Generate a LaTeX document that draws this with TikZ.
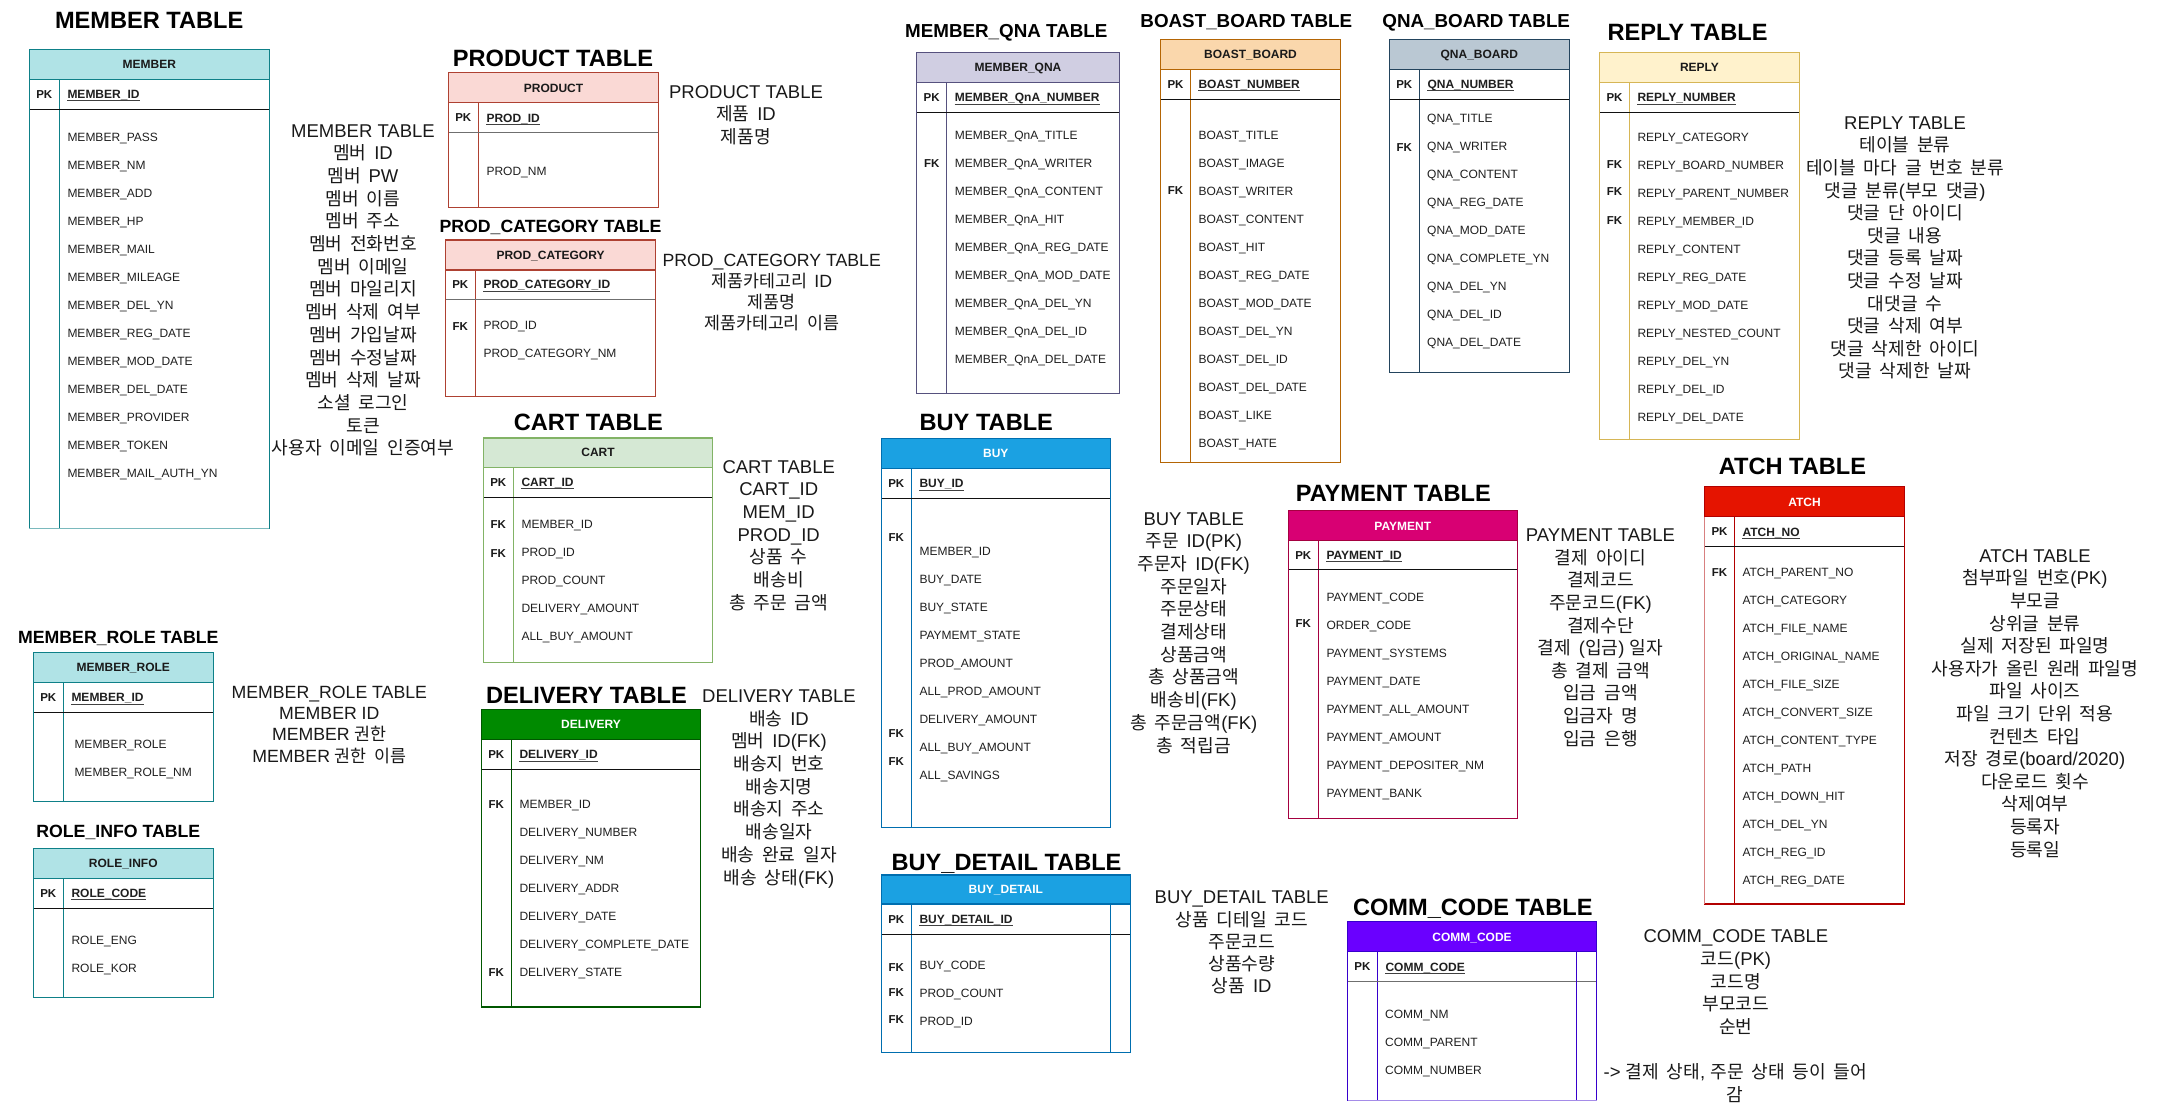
\documentclass[tikz,border=0pt]{standalone}
\usepackage{fontspec}
\setmainfont{Liberation Sans}
\newfontfamily\krfont{Noto Sans CJK KR}[Scale=0.98,WordSpace=1.9]
\usetikzlibrary{calc}
% automatic switch to the Korean font for Hangul syllables
\XeTeXinterchartokenstate=1
\newXeTeXintercharclass\hangulclass
\newcount\hgcnt
\hgcnt="AC00
\loop\XeTeXcharclass\hgcnt=\hangulclass\relax
\ifnum\hgcnt<"D7A3 \advance\hgcnt by 1 \repeat
\XeTeXinterchartoks 0 \hangulclass = {\krfont}
\XeTeXinterchartoks 4095 \hangulclass = {\krfont}
\XeTeXinterchartoks \hangulclass 0 = {\rmfamily}
\XeTeXinterchartoks 4095 0 = {\rmfamily}
% table colour sets: fill, stroke, header text, key separator
\newcommand\tcol[5]{\definecolor{#1F}{HTML}{#2}\definecolor{#1S}{HTML}{#3}\definecolor{#1T}{HTML}{#4}\definecolor{#1P}{HTML}{#5}}
\tcol{mem}{B0E3E6}{0E8088}{1A1A1A}{111111}
\tcol{prod}{FAD9D5}{AE4132}{1A1A1A}{6F6F6F}
\tcol{qna}{D0CEE2}{56517E}{1A1A1A}{111111}
\tcol{boast}{FAD7AC}{B46504}{1A1A1A}{111111}
\tcol{qb}{BAC8D3}{23445D}{1A1A1A}{111111}
\tcol{rep}{FFF2CC}{D6B656}{1A1A1A}{111111}
\tcol{cart}{D5E8D4}{82B366}{1A1A1A}{111111}
\tcol{del}{008A00}{005700}{FFFFFF}{111111}
\tcol{buy}{1BA1E2}{006EAF}{FFFFFF}{111111}
\tcol{pay}{D80073}{A50040}{FFFFFF}{111111}
\tcol{atch}{E51400}{B20000}{FFFFFF}{111111}
\tcol{comm}{6A00FF}{3700CC}{FFFFFF}{6F6F6F}
% table frame: name, left, top, right, bottom, header bottom, key bottom, divider x, colour set
\newcommand\tbl[9]{%
 \def\tN{#1}\def\tL{#2}\def\tT{#3}\def\tR{#4}\def\tB{#5}\def\tH{#6}\def\tP{#7}\def\tD{#8}%
 \colorlet{curF}{#9F}\colorlet{curS}{#9S}\colorlet{curT}{#9T}\colorlet{curP}{#9P}%
 \fill[curF] (#2,#3) rectangle (#4,#6);
 \draw[tline, curS] (#8,#6) -- (#8,#5);
 \draw[tline, curP] (#2,#7) -- (#4,#7);
 \draw[tline, curS] (#2,#6) -- (#4,#6);
 \draw[tline, curS] (#2,#3) rectangle (#4,#5);
}
\newcommand\thead[2]{%
 \node[hdr, text=curT] (\tN-head) at ({(\tL+\tR)/2}, {(\tT+\tH)/2+4.3}) {#1};
 \node[pkl] (\tN-pkl) at ({(\tL+\tD)/2}, {(\tH+\tP)/2+4.1}) {PK};
 \node[pkf] (\tN-pkf) at (\tD+8, {(\tH+\tP)/2+4.3}) {#2};
 \draw[line width=0.9, black!75] ([yshift=-2.2pt]\tN-pkf.base west) -- ([yshift=-2.2pt]\tN-pkf.base east);
}
\newcommand\flds[4][8]{%
 \foreach \fl [count=\i from 0] in {#4} {
   \node[fld] (\tN-f\i) at (\tD+#1, {#2+\i*#3+4.3}) {\fl};
 }}
\newcount\fkcnt
\newcommand\fk[1]{\global\advance\fkcnt by 1 \edef\fkname{\tN-fk\the\fkcnt}%
 \node[pkl] (\fkname) at ({(\tL+\tD)/2}, #1+4.1) {FK};}
\newcommand\bigttl[4]{\node[bigt] (#1) at (#2, #3+8.45) {#4};}
\newcommand\smallttl[4]{\node[smallt] (#1) at (#2, #3+6.7) {#4};}
\newcommand\midttl[4]{\node[midt] (#1) at (#2, #3+6.35) {#4};}
% description block: [font size] name, centre x, first line y, line step, lines
\newcommand\desc[6][18.5]{%
 \foreach \dl [count=\i from 0] in {#6} {
   \node[desct, font=\fontsize{#1}{22}\selectfont] (#2-\i) at (#3, {#4+\i*#5+0.357*#1}) {\dl};
 }}
\begin{document}
\catcode`\_=12
\begin{tikzpicture}[x=1pt,y=-1pt,
  tline/.style={line width=1.2pt},
  hdr/.style={anchor=base,inner sep=0pt,font=\bfseries\fontsize{12}{14}\selectfont},
  pkl/.style={anchor=base,inner sep=0pt,font=\bfseries\fontsize{11.5}{14}\selectfont,text=black!90},
  pkf/.style={anchor=base west,inner sep=0pt,font=\bfseries\fontsize{12}{14}\selectfont,text=black!88},
  fld/.style={anchor=base west,inner sep=0pt,font=\fontsize{12}{14}\selectfont,text=black!88},
  bigt/.style={anchor=base,inner sep=0pt,font=\bfseries\fontsize{23.6}{28}\selectfont},
  smallt/.style={anchor=base,inner sep=0pt,font=\bfseries\fontsize{18.8}{22}\selectfont},
  midt/.style={anchor=base,inner sep=0pt,font=\bfseries\fontsize{17.7}{21}\selectfont},
  desct/.style={anchor=base,inner sep=0pt,text=black!90}]
\useasboundingbox (0,0) rectangle (2161,1112);
\fill[white] (0,0) rectangle (2161,1112);

% ---------------- titles
\bigttl{t-member}{149.2}{19.6}{MEMBER TABLE}
\bigttl{t-product}{553}{58.3}{PRODUCT TABLE}
\midttl{t-prodcat}{550.5}{225.7}{PROD_CATEGORY TABLE}
\smallttl{t-memqna}{1006.3}{30.7}{MEMBER_QNA TABLE}
\smallttl{t-boast}{1246.3}{20.7}{BOAST_BOARD TABLE}
\smallttl{t-qnaboard}{1476.2}{20.7}{QNA_BOARD TABLE}
\bigttl{t-reply}{1687.5}{31.7}{REPLY TABLE}
\midttl{t-memrole}{118.3}{636.7}{MEMBER_ROLE TABLE}
\midttl{t-roleinfo}{118.3}{830.7}{ROLE_INFO TABLE}
\bigttl{t-cart}{588.3}{421.7}{CART TABLE}
\bigttl{t-delivery}{586.5}{694.6}{DELIVERY TABLE}
\bigttl{t-buy}{986.3}{421.7}{BUY TABLE}
\bigttl{t-buydetail}{1006.5}{861.8}{BUY_DETAIL TABLE}
\bigttl{t-payment}{1393.3}{493.3}{PAYMENT TABLE}
\bigttl{t-atch}{1792.5}{466}{ATCH TABLE}
\bigttl{t-comm}{1472.8}{906.7}{COMM_CODE TABLE}

% ---------------- MEMBER
\tbl{member}{29.3}{49.3}{269.3}{528.6}{79.3}{109.3}{59.3}{mem}
\thead{MEMBER}{MEMBER_ID}
\flds{136.8}{28}{MEMBER_PASS,MEMBER_NM,MEMBER_ADD,MEMBER_HP,MEMBER_MAIL,MEMBER_MILEAGE,MEMBER_DEL_YN,MEMBER_REG_DATE,MEMBER_MOD_DATE,MEMBER_DEL_DATE,MEMBER_PROVIDER,MEMBER_TOKEN,MEMBER_MAIL_AUTH_YN}
\draw[tline, memS!55] (29.3,528.6) -- (269.3,528.6);

% ---------------- PRODUCT
\tbl{product}{448.3}{72.7}{658.7}{207.7}{102.7}{132.7}{478.3}{prod}
\thead{PRODUCT}{PROD_ID}
\flds{170.7}{28}{PROD_NM}

% ---------------- PROD_CATEGORY
\tbl{prodcat}{445.3}{240}{655.7}{396.7}{270}{299.3}{475.3}{prod}
\thead{PROD_CATEGORY}{PROD_CATEGORY_ID}
\flds{324.7}{28}{PROD_ID,PROD_CATEGORY_NM}
\fk{326.3}

% ---------------- MEMBER_QNA
\tbl{memqna}{916.7}{52.3}{1119.3}{393.3}{82.3}{112.7}{946.7}{qna}
\thead{MEMBER_QNA}{MEMBER_QnA_NUMBER}
\flds{134.7}{28}{MEMBER_QnA_TITLE,MEMBER_QnA_WRITER,MEMBER_QnA_CONTENT,MEMBER_QnA_HIT,MEMBER_QnA_REG_DATE,MEMBER_QnA_MOD_DATE,MEMBER_QnA_DEL_YN,MEMBER_QnA_DEL_ID,MEMBER_QnA_DEL_DATE}
\fk{163.7}

% ---------------- BOAST_BOARD
\tbl{boast}{1160.7}{39.7}{1340.3}{462.3}{69.3}{99.3}{1190.3}{boast}
\thead{BOAST_BOARD}{BOAST_NUMBER}
\flds{134.7}{28}{BOAST_TITLE,BOAST_IMAGE,BOAST_WRITER,BOAST_CONTENT,BOAST_HIT,BOAST_REG_DATE,BOAST_MOD_DATE,BOAST_DEL_YN,BOAST_DEL_ID,BOAST_DEL_DATE,BOAST_LIKE,BOAST_HATE}
\fk{190.7}

% ---------------- QNA_BOARD
\tbl{qnaboard}{1389.3}{39.7}{1569.3}{372.3}{69.3}{99.3}{1419.3}{qb}
\thead{QNA_BOARD}{QNA_NUMBER}
\flds[7.7]{117.7}{28}{QNA_TITLE,QNA_WRITER,QNA_CONTENT,QNA_REG_DATE,QNA_MOD_DATE,QNA_COMPLETE_YN,QNA_DEL_YN,QNA_DEL_ID,QNA_DEL_DATE}
\fk{147.7}

% ---------------- REPLY
\tbl{reply}{1599.7}{52.3}{1799.3}{439.3}{82.3}{112.7}{1629.3}{rep}
\thead{REPLY}{REPLY_NUMBER}
\flds{136.7}{28}{REPLY_CATEGORY,REPLY_BOARD_NUMBER,REPLY_PARENT_NUMBER,REPLY_MEMBER_ID,REPLY_CONTENT,REPLY_REG_DATE,REPLY_MOD_DATE,REPLY_NESTED_COUNT,REPLY_DEL_YN,REPLY_DEL_ID,REPLY_DEL_DATE}
\fk{164.7}\fk{191.7}\fk{220.7}

% ---------------- MEMBER_ROLE
\tbl{memrole}{33.3}{652.3}{213.3}{801.3}{682.3}{712.7}{63.3}{mem}
\thead{MEMBER_ROLE}{MEMBER_ID}
\flds[11]{743.7}{28}{MEMBER_ROLE,MEMBER_ROLE_NM}

% ---------------- ROLE_INFO
\tbl{roleinfo}{33.3}{848.3}{213.3}{997.3}{878.3}{908.3}{63.3}{mem}
\thead{ROLE_INFO}{ROLE_CODE}
\flds{939.7}{28}{ROLE_ENG,ROLE_KOR}

% ---------------- CART
\tbl{cart}{483.3}{438}{712.7}{662.2}{467.2}{497.3}{513.3}{cart}
\thead{CART}{CART_ID}
\flds{524.6}{28}{MEMBER_ID,PROD_ID,PROD_COUNT,DELIVERY_AMOUNT,ALL_BUY_AMOUNT}
\fk{524}\fk{553.4}

% ---------------- DELIVERY
\tbl{delivery}{481.3}{709.6}{700.7}{1007}{739.3}{769.7}{511.3}{del}
\thead{DELIVERY}{DELIVERY_ID}
\flds{804.5}{28}{MEMBER_ID,DELIVERY_NUMBER,DELIVERY_NM,DELIVERY_ADDR,DELIVERY_DATE,DELIVERY_COMPLETE_DATE,DELIVERY_STATE}
\fk{804.5}\fk{972.6}

% ---------------- BUY
\tbl{buy}{881.3}{438.6}{1110.3}{827.1}{468.5}{498.4}{911.3}{buy}
\thead{BUY}{BUY_ID}
\flds{551.3}{28}{MEMBER_ID,BUY_DATE,BUY_STATE,PAYMEMT_STATE,PROD_AMOUNT,ALL_PROD_AMOUNT,DELIVERY_AMOUNT,ALL_BUY_AMOUNT,ALL_SAVINGS}
\fk{537.5}\fk{733.5}\fk{761.2}

% ---------------- BUY_DETAIL
\tbl{buydetail}{881.3}{874.9}{1130.3}{1052.6}{903.9}{934.3}{911.3}{buy}
\thead{BUY_DETAIL}{BUY_DETAIL_ID}
\draw[tline, curS] (1110.3,903.9) -- (1110.3,1052.6);
\flds{965.5}{28}{BUY_CODE,PROD_COUNT,PROD_ID}
\fk{967.2}\fk{992.8}\fk{1019.3}

% ---------------- PAYMENT
\tbl{payment}{1288.3}{510.7}{1517.3}{818.3}{540.7}{569.3}{1318.3}{pay}
\thead{PAYMENT}{PAYMENT_ID}
\flds{596.7}{28}{PAYMENT_CODE,ORDER_CODE,PAYMENT_SYSTEMS,PAYMENT_DATE,PAYMENT_ALL_AMOUNT,PAYMENT_AMOUNT,PAYMENT_DEPOSITER_NM,PAYMENT_BANK}
\fk{623.7}

% ---------------- ATCH
\tbl{atch}{1704.7}{486.7}{1904.3}{904}{516.7}{546.7}{1734.3}{atch}
\thead{ATCH}{ATCH_NO}
\draw[tline, atchS!50] (1704.7,516.7) -- (1704.7,904);
\flds{571.7}{28}{ATCH_PARENT_NO,ATCH_CATEGORY,ATCH_FILE_NAME,ATCH_ORIGINAL_NAME,ATCH_FILE_SIZE,ATCH_CONVERT_SIZE,ATCH_CONTENT_TYPE,ATCH_PATH,ATCH_DOWN_HIT,ATCH_DEL_YN,ATCH_REG_ID,ATCH_REG_DATE}
\fk{572.7}

% ---------------- COMM_CODE
\tbl{comm}{1347.5}{921.7}{1596.6}{1100.7}{951.7}{981.7}{1377.3}{comm}
\thead{COMM_CODE}{COMM_CODE}
\draw[tline, curS] (1576.3,951.7) -- (1576.3,1100.7);
\draw[tline, commS!45] (1347.5,1100.7) -- (1596.6,1100.7);
\flds[7.7]{1014}{28}{COMM_NM,COMM_PARENT,COMM_NUMBER}

% ---------------- descriptions
\desc{d-member}{363}{130.4}{22.7}{MEMBER TABLE,멤버 ID,멤버 PW,멤버 이름,멤버 주소,멤버 전화번호,멤버 이메일,멤버 마일리지,멤버 삭제 여부,멤버 가입날짜,멤버 수정날짜,멤버 삭제 날짜,소셜 로그인,토큰,사용자 이메일 인증여부}
\desc{d-product}{746}{91.7}{22.5}{PRODUCT TABLE,제품 ID,제품명}
\desc[17.7]{d-prodcat}{771.7}{260}{20.9}{PROD_CATEGORY TABLE,제품카테고리 ID,제품명,제품카테고리 이름}
\desc{d-reply}{1905}{122.7}{22.6}{REPLY TABLE,테이블 분류,테이블 마다 글 번호 분류,댓글 분류(부모 댓글),댓글 단 아이디,댓글 내용,댓글 등록 날짜,댓글 수정 날짜,대댓글 수,댓글 삭제 여부,댓글 삭제한 아이디,댓글 삭제한 날짜}
\desc[17.7]{d-memrole}{329.3}{691.7}{21.4}{MEMBER_ROLE TABLE,MEMBER ID,MEMBER 권한,MEMBER 권한 이름}
\desc{d-cart}{778.7}{466.4}{22.7}{CART TABLE,CART_ID,MEM_ID,PROD_ID,상품 수,배송비,총 주문 금액}
\desc{d-delivery}{779}{695.8}{22.7}{DELIVERY TABLE,배송 ID,멤버 ID(FK),배송지 번호,배송지명,배송지 주소,배송일자,배송 완료 일자,배송 상태(FK)}
\desc{d-buy}{1193.7}{518.4}{22.7}{BUY TABLE,주문 ID(PK),주문자 ID(FK),주문일자,주문상태,결제상태,상품금액,총 상품금액,배송비(FK),총 주문금액(FK),총 적립금}
\desc{d-payment}{1600.5}{535}{22.6}{PAYMENT TABLE,결제 아이디,결제코드,주문코드(FK),결제수단,결제 (입금) 일자,총 결제 금액,입금 금액,입금자 명,입금 은행}
\desc{d-atch}{2035}{555.7}{22.6}{ATCH TABLE,첨부파일 번호(PK),부모글,상위글 분류,실제 저장된 파일명,사용자가 올린 원래 파일명,파일 사이즈,파일 크기 단위 적용,컨텐츠 타입,저장 경로(board/2020),다운로드 횟수,삭제여부,등록자,등록일}
\desc{d-buydetail}{1241.7}{897.3}{22.2}{BUY_DETAIL TABLE,상품 디테일 코드,주문코드,상품수량,상품 ID}
\desc{d-comm}{1735.9}{936}{22.7}{COMM_CODE TABLE,코드(PK),코드명,부모코드,순번}
\node[desct, font=\fontsize{18.5}{22}\selectfont] (d-comm-note1) at (1735.3,1071.7+6.6) {-> 결제 상태, 주문 상태 등이 들어};
\node[desct, font=\fontsize{18.5}{22}\selectfont] (d-comm-note2) at (1735.3,1095+6.6) {감};
\end{tikzpicture}
\end{document}
